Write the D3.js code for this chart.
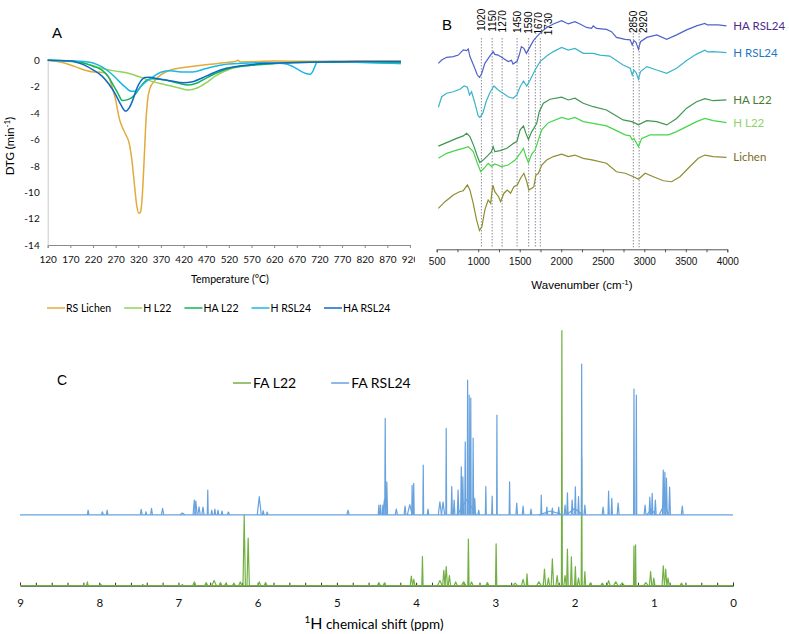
<!DOCTYPE html>
<html>
<head>
<meta charset="utf-8">
<script src="https://cdn.jsdelivr.net/npm/d3@7"></script>
<style>
body { margin: 0; background: #fff; }
</style>
</head>
<body>
<div id="chart-area"></div>
<script>
// ---------- DATA: panel A, DTG curves [temperature °C, DTG min-1]
var tempTicks = [120, 170, 220, 270, 320, 370, 420, 470, 520, 570, 620, 670, 720, 770, 820, 870, 920];
var dtgTicks = [0, -2, -4, -6, -8, -10, -12, -14];

var dtgLichen = [[120,0],[150,-0.15],[170,-0.35],[190,-0.6],[205,-0.78],[220,-0.88],[235,-0.9],[245,-0.95],[255,-1.3],[262,-2.0],[270,-3.0],[278,-4.4],[285,-5.1],[292,-5.6],[300,-6.3],[306,-7.6],[312,-9.6],[317,-11.1],[321,-11.6],[325,-11.5],[329,-10.2],[333,-7.5],[337,-4.6],[341,-2.9],[346,-2.1],[355,-1.6],[370,-1.1],[390,-0.75],[420,-0.55],[450,-0.42],[480,-0.3],[520,-0.15],[535,-0.08],[540,0.0],[545,-0.12],[580,-0.1],[620,-0.05],[700,-0.08],[800,-0.05],[900,-0.05]];
var dtgHL22 = [[120,0],[170,-0.1],[200,-0.25],[230,-0.5],[250,-0.7],[270,-0.82],[300,-1.0],[330,-1.35],[350,-1.6],[380,-1.85],[410,-2.1],[430,-2.25],[450,-2.1],[470,-1.7],[490,-1.2],[520,-0.7],[570,-0.38],[620,-0.25],[700,-0.15],[800,-0.15],[900,-0.25]];
var dtgHAL22 = [[120,0],[170,-0.05],[200,-0.2],[220,-0.45],[240,-0.75],[255,-1.3],[265,-1.9],[275,-2.5],[285,-3.05],[295,-3.0],[305,-2.85],[315,-2.5],[325,-2.0],[335,-1.6],[350,-1.4],[380,-1.5],[410,-1.75],[430,-1.87],[450,-1.72],[470,-1.35],[490,-1.0],[520,-0.62],[570,-0.38],[620,-0.25],[700,-0.15],[900,-0.15]];
var dtgHRSL24 = [[120,0],[170,-0.05],[200,-0.1],[220,-0.2],[240,-0.5],[260,-1.0],[275,-1.5],[290,-2.0],[305,-2.35],[315,-2.35],[325,-2.0],[340,-1.55],[355,-1.2],[370,-0.9],[390,-0.8],[420,-0.88],[440,-0.88],[470,-0.62],[520,-0.28],[600,-0.18],[640,-0.25],[660,-0.45],[675,-0.75],[690,-1.0],[700,-1.05],[706,-0.8],[712,-0.3],[716,-0.12],[750,-0.1],[800,-0.15],[900,-0.25]];
var dtgHARSL24 = [[120,0],[170,-0.05],[200,-0.35],[220,-0.73],[240,-1.2],[255,-1.8],[270,-2.6],[282,-3.4],[292,-3.85],[300,-3.6],[308,-3.0],[316,-2.2],[325,-1.6],[335,-1.3],[345,-1.28],[360,-1.38],[390,-1.55],[420,-1.7],[440,-1.62],[470,-1.2],[500,-0.75],[540,-0.45],[600,-0.25],[700,-0.15],[800,-0.1],[900,-0.1]];

// ---------- DATA: panel B, FTIR spectra [wavenumber cm-1, absorbance a.u. (stacked)]
var waveTicks = [500, 750, 1000, 1250, 1500, 1750, 2000, 2250, 2500, 2750, 3000, 3250, 3500, 3750, 4000];
var bandMarks = [1020, 1150, 1270, 1450, 1590, 1670, 1730, 2850, 2920];

var ftirHARSL24 = [[520,74.6],[560,75.9],[620,77.0],[700,77.3],[760,77.9],[820,80.0],[860,79.7],[880,80.4],[900,77.3],[950,73.3],[990,69.9],[1015,69.0],[1040,70.3],[1080,74.6],[1140,77.5],[1180,79.3],[1200,78.2],[1240,77.9],[1300,76.6],[1360,75.3],[1400,75.8],[1420,74.3],[1470,75.5],[1500,78.6],[1520,81.3],[1550,80.6],[1580,78.6],[1625,81.3],[1665,83.7],[1705,85.3],[1765,87.3],[1825,89.0],[1905,90.4],[2005,91.7],[2085,90.4],[2165,91.3],[2225,90.4],[2305,89.0],[2365,88.6],[2385,89.6],[2425,88.6],[2545,88.2],[2605,87.3],[2665,85.0],[2770,84.2],[2830,84.0],[2855,82.0],[2875,83.7],[2900,83.0],[2930,80.2],[2955,83.3],[3030,85.0],[3150,86.0],[3270,84.2],[3390,86.0],[3510,88.0],[3630,89.6],[3730,90.6],[3760,90.0],[3810,90.0],[3890,90.0],[3990,89.6]];
var ftirHRSL24 = [[520,57.0],[560,61.2],[620,62.6],[700,63.2],[780,64.2],[830,65.5],[870,65.0],[895,61.9],[920,63.2],[960,58.6],[1000,53.5],[1020,52.9],[1055,54.5],[1095,59.2],[1140,62.8],[1190,65.5],[1240,63.9],[1300,62.6],[1360,61.2],[1420,60.6],[1465,61.9],[1505,65.2],[1545,67.5],[1585,65.5],[1625,67.9],[1685,71.9],[1745,75.3],[1825,77.5],[1905,79.3],[2005,81.0],[2085,79.9],[2165,80.6],[2265,78.6],[2385,78.6],[2465,77.9],[2585,77.5],[2665,75.7],[2745,73.9],[2830,72.6],[2855,69.9],[2875,71.9],[2900,71.0],[2930,68.2],[2955,71.3],[3030,73.3],[3150,71.9],[3270,70.6],[3390,72.6],[3510,75.7],[3630,78.3],[3730,79.9],[3760,79.2],[3830,79.3],[3990,78.9]];
var ftirHAL22 = [[520,41.4],[620,42.8],[740,44.5],[820,45.5],[860,46.5],[900,45.2],[950,41.2],[990,37.2],[1020,34.8],[1060,35.8],[1120,37.8],[1160,39.2],[1180,41.2],[1200,39.2],[1265,39.6],[1345,40.5],[1425,42.5],[1465,43.2],[1505,47.9],[1545,49.5],[1575,46.5],[1605,44.1],[1645,47.2],[1670,48.5],[1705,50.5],[1735,55.2],[1785,58.6],[1865,60.2],[2005,61.0],[2085,59.9],[2165,60.6],[2265,58.6],[2385,57.2],[2545,55.9],[2645,53.9],[2745,51.9],[2850,51.2],[2930,49.9],[3030,51.6],[3150,51.2],[3270,49.9],[3390,52.5],[3510,56.6],[3630,59.2],[3730,60.4],[3830,59.6],[3990,59.9]];
var ftirHL22 = [[520,36.5],[620,38.5],[740,39.8],[820,40.5],[880,41.2],[940,39.2],[990,34.5],[1030,31.1],[1070,32.5],[1120,34.5],[1160,33.2],[1200,34.2],[1280,33.2],[1360,33.8],[1445,35.8],[1505,38.5],[1545,40.5],[1575,37.2],[1605,34.8],[1645,38.2],[1685,39.8],[1725,43.9],[1765,47.9],[1845,50.8],[2005,52.9],[2085,52.1],[2165,52.9],[2265,51.2],[2385,50.5],[2545,49.5],[2665,47.6],[2770,45.9],[2830,45.5],[2855,43.9],[2875,44.5],[2930,41.2],[2970,44.5],[3070,45.9],[3190,45.9],[3290,45.9],[3390,47.2],[3510,49.2],[3630,51.2],[3730,52.5],[3830,51.6],[3990,50.8]];
var ftirLichen = [[520,16.4],[600,19.1],[700,21.8],[775,23.1],[820,23.5],[870,25.8],[900,23.8],[940,18.4],[980,11.8],[1015,7.5],[1045,9.1],[1080,15.8],[1120,19.8],[1150,18.4],[1175,25.8],[1200,23.1],[1245,21.1],[1270,19.1],[1310,22.5],[1350,23.8],[1390,22.5],[1430,25.1],[1470,25.8],[1510,28.5],[1550,30.5],[1585,27.1],[1610,23.8],[1645,24.5],[1670,25.1],[1695,29.8],[1725,30.5],[1765,33.8],[1825,35.8],[1905,37.2],[2005,38.2],[2085,37.2],[2165,37.8],[2265,36.5],[2385,35.8],[2545,34.5],[2665,31.1],[2770,30.5],[2870,29.1],[2930,28.1],[3010,30.5],[3110,29.1],[3230,27.5],[3330,27.1],[3430,29.1],[3550,33.2],[3650,36.5],[3730,37.8],[3830,37.2],[3990,36.9]];

// ---------- DATA: panel C, 1H NMR peak tables [ppm, intensity, half width ppm]
var ppmTicks = [9, 8, 7, 6, 5, 4, 3, 2, 1, 0];
var nmrL22 = [[8.15,1.5,0.01],[7.98,0.6,0.01],[7.45,0.5,0.01],[6.95,0.5,0.01],[6.80,1.5,0.02],[6.65,1.2,0.02],[6.55,2.0,0.03],[6.47,1.2,0.02],[6.40,1.0,0.02],[6.30,1.0,0.02],[6.22,1.5,0.02],[6.17,27.7,0.015],[6.12,18.7,0.015],[5.98,1.5,0.02],[5.90,1.2,0.02],[4.47,1.2,0.02],[4.40,1.0,0.02],[4.06,3.8,0.015],[4.03,2.5,0.015],[3.92,11.4,0.008],[3.70,2.0,0.03],[3.65,6.0,0.015],[3.62,7.5,0.015],[3.58,4.0,0.015],[3.50,1.5,0.02],[3.40,1.5,0.03],[3.34,18.3,0.008],[3.30,1.5,0.02],[3.10,1.2,0.02],[2.99,16.4,0.008],[2.75,1.0,0.03],[2.65,2.5,0.02],[2.60,4.6,0.01],[2.45,1.5,0.03],[2.38,6.5,0.015],[2.33,3.0,0.015],[2.28,10.5,0.015],[2.22,4.0,0.015],[2.16,100,0.006],[2.12,4.0,0.015],[2.09,14.4,0.01],[2.04,11.3,0.01],[1.99,7.5,0.01],[1.95,3.0,0.015],[1.91,50,0.006],[1.87,5.5,0.01],[1.80,1.0,0.02],[1.65,1.0,0.02],[1.57,2.0,0.02],[1.48,1.5,0.03],[1.40,1.0,0.03],[1.25,15.5,0.006],[1.23,16.0,0.006],[1.10,1.2,0.03],[1.04,5.5,0.015],[1.00,3.0,0.015],[0.88,7.8,0.015],[0.85,6.5,0.015],[0.82,3.0,0.015],[0.65,1.0,0.02]];
var nmrRSL24 = [[8.14,1.8,0.01],[7.96,1.2,0.012],[7.90,1.8,0.01],[7.47,2.1,0.012],[7.41,1.2,0.01],[7.34,2.5,0.012],[7.20,2.5,0.015],[6.95,0.7,0.03],[6.80,5.8,0.015],[6.78,5.4,0.015],[6.74,3.1,0.015],[6.69,3.0,0.015],[6.63,9.7,0.006],[6.58,1.8,0.01],[6.54,2.2,0.01],[6.50,1.8,0.01],[6.45,1.5,0.01],[6.37,1.1,0.015],[5.98,7.1,0.025],[5.93,1.6,0.01],[5.88,1.1,0.01],[4.86,1.8,0.015],[4.47,3.8,0.008],[4.45,3.8,0.008],[4.42,3.8,0.008],[4.40,6.0,0.02],[4.39,37.8,0.006],[4.37,12.9,0.01],[4.25,2.2,0.015],[4.14,3.4,0.012],[4.08,4.0,0.03],[4.05,11.6,0.006],[4.03,12.3,0.006],[3.91,19.5,0.005],[3.85,2.2,0.01],[3.70,5.1,0.02],[3.66,5.0,0.02],[3.62,33.9,0.005],[3.55,11.1,0.008],[3.52,5.8,0.01],[3.47,9.7,0.01],[3.43,18.8,0.008],[3.41,14.9,0.008],[3.38,28.6,0.006],[3.36,6.0,0.12],[3.35,52.8,0.005],[3.33,46.9,0.005],[3.31,45.8,0.005],[3.28,30.1,0.006],[3.26,6.5,0.01],[3.21,1.8,0.01],[3.12,11.1,0.006],[3.04,7.3,0.006],[2.98,39.1,0.004],[2.82,12.9,0.006],[2.73,4.6,0.01],[2.65,3.4,0.01],[2.55,2.2,0.01],[2.42,7.7,0.006],[2.35,3.0,0.01],[2.30,1.5,0.15],[2.28,2.6,0.01],[2.20,3.0,0.01],[2.12,3.8,0.01],[2.09,8.6,0.008],[2.03,5.8,0.01],[2.00,2.5,0.1],[1.99,11.0,0.008],[1.95,7.1,0.008],[1.91,59.1,0.004],[1.87,3.8,0.01],[1.64,3.0,0.012],[1.57,9.3,0.008],[1.53,6.5,0.008],[1.45,4.6,0.012],[1.25,49.3,0.005],[1.22,46.9,0.005],[1.11,3.8,0.012],[1.05,6.9,0.01],[1.03,2.0,0.06],[1.02,8.4,0.008],[0.98,5.8,0.01],[0.88,17.5,0.01],[0.87,4.0,0.06],[0.86,16.7,0.01],[0.84,14.4,0.01],[0.80,10.9,0.01],[0.64,3.4,0.012]];
var nmrOffsetRSL24 = 27.8; // stacking offset of the upper spectrum (intensity units)

// ---------- SVG
var svg = d3.select("#chart-area")
    .append("svg")
    .attr("width", 789)
    .attr("height", 634)
    .style("font-family", "Lato, 'Open Sans', sans-serif");

function styleAxis(sel, size, family) {
    sel.selectAll("path").attr("stroke", "#8a8a8a");
    sel.selectAll("line").attr("stroke", "#8a8a8a");
    sel.selectAll("text").attr("fill", "#111").attr("font-size", size).attr("font-family", family);
}

// =============================== PANEL A
svg.append("clipPath").attr("id", "clipA")
    .append("rect").attr("x", 0).attr("y", 0).attr("width", 415).attr("height", 325);
var gA = svg.append("g").attr("clip-path", "url(#clipA)");

var xA = d3.scaleLinear().domain([120, 920]).range([47.7, 410]);
var yA = d3.scaleLinear().domain([-14, 0]).range([245, 60.3]);

var xAxisA = gA.append("g")
    .attr("transform", "translate(0," + yA(-14) + ")")
    .call(d3.axisBottom(xA).tickValues(tempTicks).tickSize(3).tickPadding(8).tickFormat((d) => d));
styleAxis(xAxisA, "10px", "Lato, sans-serif");

var yAxisA = gA.append("g")
    .attr("transform", "translate(" + xA(120) + ",0)")
    .call(d3.axisLeft(yA).tickValues(dtgTicks).tickSize(0).tickPadding(8).tickFormat((d) => d));
styleAxis(yAxisA, "10px", "Lato, sans-serif");
yAxisA.select("path").attr("stroke", "#c8c8c8");

var tgaSeries = [
    { name: "RS Lichen", data: dtgLichen, color: "#e2ab3b" },
    { name: "H L22", data: dtgHL22, color: "#93d35a" },
    { name: "HA L22", data: dtgHAL22, color: "#10b45a" },
    { name: "H RSL24", data: dtgHRSL24, color: "#1cb8e4" },
    { name: "HA RSL24", data: dtgHARSL24, color: "#1068c6" }
];

var lineA = d3.line()
    .x((d) => xA(d[0]))
    .y((d) => yA(d[1]))
    .curve(d3.curveMonotoneX);

gA.selectAll(".tga").data(tgaSeries).enter()
    .append("path")
    .attr("class", "tga")
    .attr("d", (d) => lineA(d.data))
    .attr("fill", "none")
    .attr("stroke", (d) => d.color)
    .attr("stroke-width", 1.5);

gA.append("text")
    .attr("x", 57).attr("y", 38)
    .attr("text-anchor", "middle")
    .attr("font-size", "15px")
    .attr("font-family", "'Liberation Sans', Arial, sans-serif")
    .text("A");

var yLabelA = gA.append("text")
    .attr("transform", "translate(14," + yA(-6.5) + ") rotate(-90)")
    .attr("text-anchor", "middle")
    .attr("font-size", "11.5px");
yLabelA.append("tspan").text("DTG (min");
yLabelA.append("tspan").attr("font-size", "8px").attr("dy", "-4").text("-1");
yLabelA.append("tspan").attr("dy", "4").text(")");

gA.append("text")
    .attr("x", 230).attr("y", 283)
    .attr("text-anchor", "middle")
    .attr("font-size", "10.5px")
    .text("Temperature (°C)");

// legend A
var legX = 47;
tgaSeries.forEach((s) => {
    gA.append("line")
        .attr("x1", legX).attr("x2", legX + 18)
        .attr("y1", 308).attr("y2", 308)
        .attr("stroke", s.color).attr("stroke-width", 1.5);
    var t = gA.append("text")
        .attr("x", legX + 19).attr("y", 311.5)
        .attr("font-size", "10.5px")
        .text(s.name);
    legX = legX + 19 + t.node().getComputedTextLength() + 13;
});

// =============================== PANEL B
var gB = svg.append("g");
var xB = d3.scaleLinear().domain([500, 4000]).range([436.7, 727.3]);
var yB = d3.scaleLinear().domain([0, 100]).range([249.3, 0]);

var xAxisB = gB.append("g")
    .attr("transform", "translate(0," + yB(0) + ")")
    .call(d3.axisBottom(xB).tickValues(waveTicks).tickSize(3).tickPadding(6)
        .tickFormat((d) => (d % 500 === 0 ? d : "")));
styleAxis(xAxisB, "10px", "'Liberation Sans', Arial, sans-serif");
xAxisB.selectAll("path, line").attr("stroke", "#555");

var labB = gB.append("text")
    .attr("x", (xB(500) + xB(4000)) / 2).attr("y", 289)
    .attr("text-anchor", "middle")
    .attr("font-size", "11.5px")
    .attr("font-family", "'Liberation Sans', Arial, sans-serif");
labB.append("tspan").text("Wavenumber (cm");
labB.append("tspan").attr("font-size", "8px").attr("dy", "-4").text("-1");
labB.append("tspan").attr("dy", "4").text(")");

// dotted band lines + labels
var bandLabelX = [];
bandMarks.forEach((w, i) => {
    var px = xB(w) + 1.5;
    var lx = i > 0 && bandMarks[i] - bandMarks[i - 1] < 500 ? Math.max(px, bandLabelX[i - 1] + 10) : px;
    bandLabelX.push(lx);
    var top = w > 2500 ? 30 : 38;
    gB.append("line")
        .attr("x1", px).attr("x2", px)
        .attr("y1", top).attr("y2", yB(0) - 2)
        .attr("stroke", "#8c8c9a").attr("stroke-width", 1)
        .attr("stroke-dasharray", "1.5,1.5");
    gB.append("text")
        .attr("transform", "translate(" + (lx + 3.5) + "," + (w > 2500 ? 33 : 31 + i * 0.7) + ") rotate(-90)")
        .attr("font-size", "10px")
        .attr("font-family", "'Liberation Sans', Arial, sans-serif")
        .text(w);
});

var ftirSeries = [
    { name: "HA RSL24", data: ftirHARSL24, color: "#4f63c6", label: "#4d2b8c" },
    { name: "H RSL24", data: ftirHRSL24, color: "#3ab4ca", label: "#1f77c4" },
    { name: "HA L22", data: ftirHAL22, color: "#3f9650", label: "#4a7a35" },
    { name: "H L22", data: ftirHL22, color: "#46d64a", label: "#8fd26a" },
    { name: "Lichen", data: ftirLichen, color: "#8f8d32", label: "#7d6a25" }
];

var lineB = d3.line()
    .x((d) => xB(d[0]))
    .y((d) => yB(d[1]));

gB.selectAll(".ftir").data(ftirSeries).enter()
    .append("path")
    .attr("class", "ftir")
    .attr("d", (d) => lineB(d.data))
    .attr("fill", "none")
    .attr("stroke", (d) => d.color)
    .attr("stroke-width", 1.2);

gB.selectAll(".ftirlab").data(ftirSeries).enter()
    .append("text")
    .attr("class", "ftirlab")
    .attr("x", xB(4000) + 6)
    .attr("y", (d) => yB(d.data[d.data.length - 1][1]) + 4)
    .attr("font-size", "11.5px")
    .attr("fill", (d) => d.label)
    .text((d) => d.name);

gB.append("text")
    .attr("x", 447).attr("y", 30)
    .attr("text-anchor", "middle")
    .attr("font-size", "15px")
    .attr("font-family", "'Liberation Sans', Arial, sans-serif")
    .text("B");

// =============================== PANEL C
var gC = svg.append("g");
var xC = d3.scaleLinear().domain([9, 0]).range([20, 733]);
var yC = d3.scaleLinear().domain([0, 100]).range([585.7, 330.7]);

var xAxisC = gC.append("g")
    .attr("transform", "translate(0," + yC(0) + ")")
    .call(d3.axisBottom(xC).ticks(45).tickSize(-3).tickPadding(13)
        .tickFormat((d) => (Math.abs(d - Math.round(d)) < 1e-6 ? Math.round(d) : "")));
styleAxis(xAxisC, "11.5px", "Lato, sans-serif");
xAxisC.selectAll("path, line").attr("stroke", "#333");

function peakPath(p, offset) {
    return d3.line()
        .x((d) => xC(d[0]))
        .y((d) => yC(d[1] + offset))([[p[0] + p[2], 0], [p[0], p[1]], [p[0] - p[2], 0]]);
}

var nmrSeries = [
    { name: "FA L22", peaks: nmrL22, offset: 0, color: "#72b043" },
    { name: "FA RSL24", peaks: nmrRSL24, offset: nmrOffsetRSL24, color: "#68a2de" }
];

nmrSeries.forEach((s) => {
    var gs = gC.append("g");
    gs.append("line")
        .attr("x1", xC(9)).attr("x2", xC(0))
        .attr("y1", yC(s.offset)).attr("y2", yC(s.offset))
        .attr("stroke", s.color).attr("stroke-width", 1.3);
    gs.selectAll("path").data(s.peaks).enter()
        .append("path")
        .attr("d", (p) => peakPath(p, s.offset))
        .attr("fill", "none")
        .attr("stroke", s.color)
        .attr("stroke-width", 1.2)
        .attr("stroke-linejoin", "round");
});

var labC = gC.append("text")
    .attr("x", 374).attr("y", 629)
    .attr("text-anchor", "middle")
    .attr("font-size", "13.5px");
labC.append("tspan").attr("font-size", "10px").attr("dy", "-6").text("1");
labC.append("tspan").attr("font-size", "16px").attr("dy", "6").text("H");
labC.append("tspan").text("  chemical shift (ppm)");

gC.append("text")
    .attr("x", 62).attr("y", 385)
    .attr("text-anchor", "middle")
    .attr("font-size", "14px")
    .attr("font-family", "'Liberation Sans', Arial, sans-serif")
    .text("C");

// legend C
var legCX = 233;
nmrSeries.forEach((s) => {
    gC.append("line")
        .attr("x1", legCX).attr("x2", legCX + 18)
        .attr("y1", 383).attr("y2", 383)
        .attr("stroke", s.color).attr("stroke-width", 1.5);
    var t = gC.append("text")
        .attr("x", legCX + 20).attr("y", 388)
        .attr("font-size", "14px")
        .text(s.name);
    legCX = legCX + 20 + t.node().getComputedTextLength() + 35;
});
</script>
</body>
</html>
